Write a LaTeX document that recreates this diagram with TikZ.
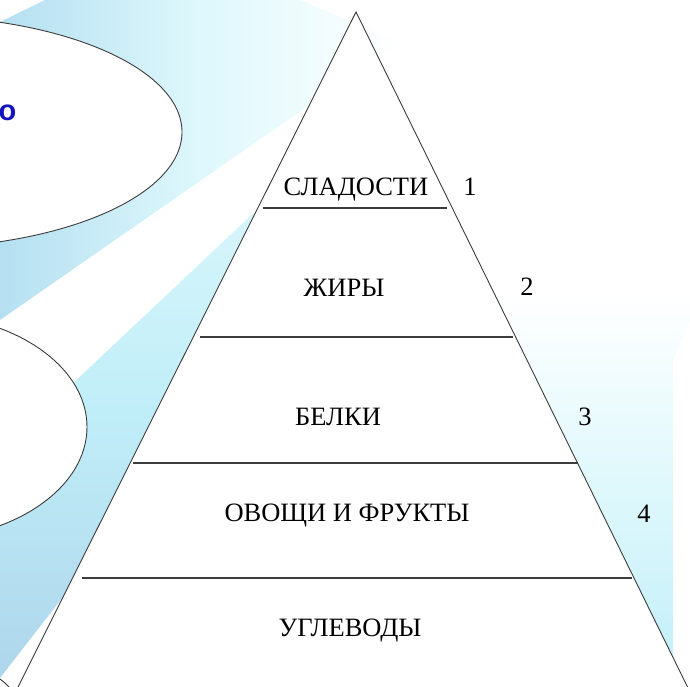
\documentclass[tikz,border=0pt]{standalone}
\usepackage{fontspec}
\setmainfont{Liberation Serif}
\newfontfamily\sansbold{Liberation Sans}
\definecolor{cyanL}{RGB}{222,248,252}
\definecolor{cyanM}{RGB}{192,238,248}
\definecolor{blueB}{RGB}{174,214,236}
\definecolor{textblue}{RGB}{20,20,190}
\definecolor{linegray}{RGB}{60,60,60}
\begin{document}
\begin{tikzpicture}[x=1pt,y=-1pt,
  ell/.style={draw=linegray,line width=0.9pt,fill=white},
  tri/.style={draw=linegray,line width=0.9pt,fill=white},
  level/.style={draw=linegray,line width=1.6pt},
  lbl/.style={anchor=base,inner sep=0pt,font=\fontsize{26.5}{30}\selectfont},
  num/.style={anchor=base,inner sep=0pt,font=\fontsize{26.5}{30}\selectfont}]
\useasboundingbox (0,0) rectangle (690,687);
\begin{scope}
\clip (0,0) rectangle (690,687);
% background rays
\shade[left color=blueB!60!cyanM, right color=white, middle color=cyanL]
  (45,0) -- (300,0) -- (400,42) -- (0,320) -- (0,22) -- cycle;
\shade[top color=cyanL, bottom color=blueB, middle color=cyanM]
  (0,452) -- (330,141) -- (140,470) -- (80,575) -- (0,678) -- cycle;
\shade[top color=white, bottom color=cyanM, middle color=cyanL]
  (470,295) -- (690,295) -- (690,320) -- (673,360) -- (673,687) -- (470,687) -- cycle;
% ellipses
\draw[ell] (-88,132) ellipse [x radius=270, y radius=116];
\draw[ell] (-83,427) ellipse [x radius=170, y radius=113];
\draw[linegray,line width=0.9pt] (0,679) .. controls (4,682) .. (11,689);
% pyramid
\coordinate (apex) at (356,12);
\coordinate (bl) at (16.5,690);
\coordinate (br) at (689,690);
\draw[tri] (apex) -- (br) -- (bl) -- cycle;
\end{scope}
% level lines
\coordinate (a1) at (263,208); \coordinate (b1) at (447,208);
\coordinate (a2) at (200,337); \coordinate (b2) at (513,337);
\coordinate (a3) at (133,463); \coordinate (b3) at (578,463);
\coordinate (a4) at (82,578);  \coordinate (b4) at (632,578);
\draw[level] (a1) -- (b1);
\draw[level] (a2) -- (b2);
\draw[level] (a3) -- (b3);
\draw[level] (a4) -- (b4);
% labels
\node[lbl] (t1) at (356,196) {СЛАДОСТИ};
\node[lbl] (t2) at (344,296) {ЖИРЫ};
\node[lbl] (t3) at (338,425) {БЕЛКИ};
\node[lbl] (t4) at (347,521) {ОВОЩИ И ФРУКТЫ};
\node[lbl] (t5) at (350,636) {УГЛЕВОДЫ};
\node[num] (n1) at (470,196) {1};
\node[num] (n2) at (527,295) {2};
\node[num] (n3) at (585,425) {3};
\node[num] (n4) at (644,522) {4};
\node[anchor=base west,inner sep=0pt,text=textblue,
  font=\sansbold\bfseries\fontsize{29}{30}\selectfont] (o) at (-1.5,121) {о};
\end{tikzpicture}
\end{document}
